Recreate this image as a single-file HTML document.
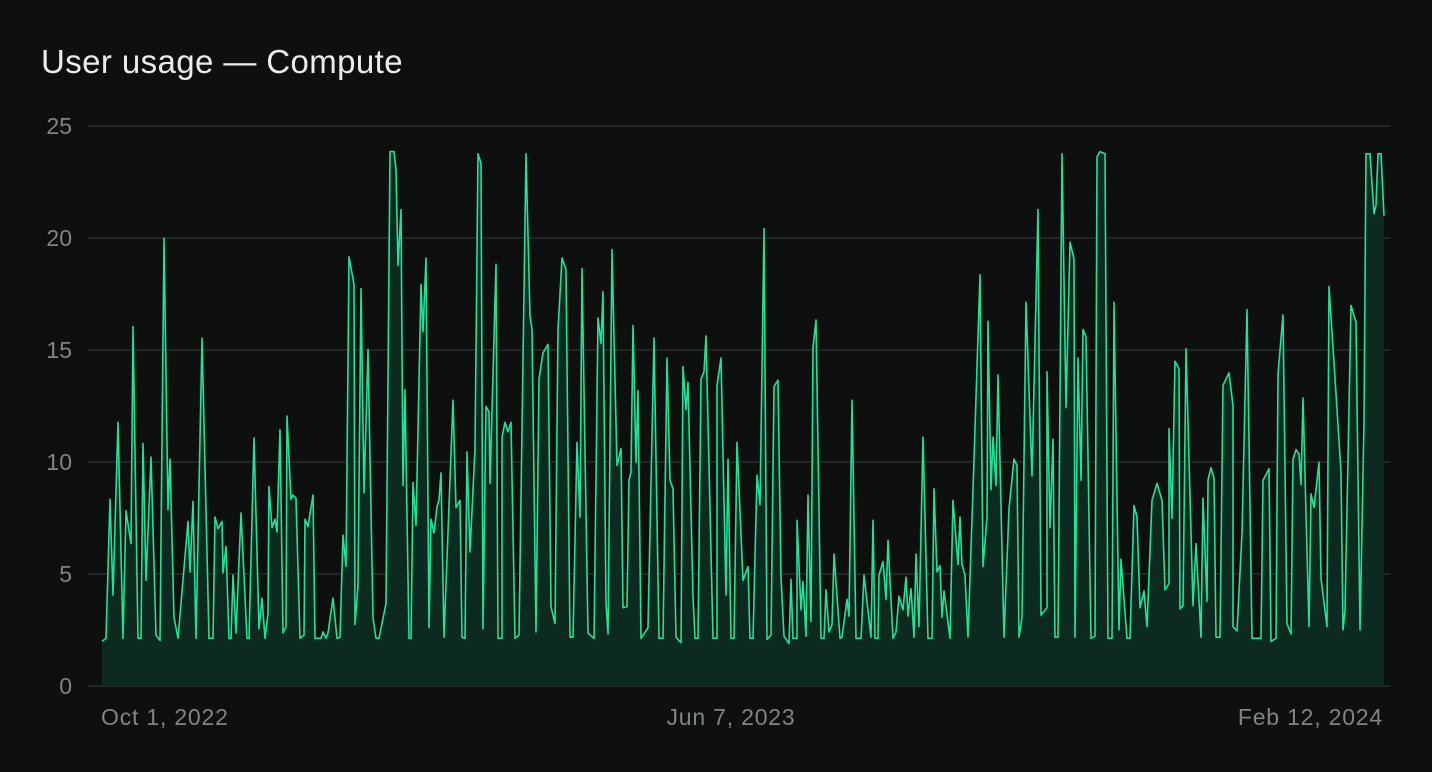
<!DOCTYPE html>
<html><head><meta charset="utf-8"><style>
html,body{margin:0;padding:0;background:#0e0f0f;}
svg{display:block}
text{font-family:"Liberation Sans",sans-serif}
</style></head><body>
<svg width="1432" height="772" viewBox="0 0 1432 772" xmlns="http://www.w3.org/2000/svg">
<rect width="1432" height="772" fill="#0e0f0f"/>
<text x="41" y="73" font-size="33" letter-spacing="0.4" fill="#ececec">User usage — Compute</text>
<g stroke="#2a2d2c" stroke-width="1.5">
<line x1="88" y1="126" x2="1390" y2="126"/>
<line x1="88" y1="238" x2="1390" y2="238"/>
<line x1="88" y1="350" x2="1390" y2="350"/>
<line x1="88" y1="462" x2="1390" y2="462"/>
<line x1="88" y1="574" x2="1390" y2="574"/>
<line x1="88" y1="686" x2="1390" y2="686"/>
</g>
<g font-size="23" fill="#7f8584" text-anchor="end">
<text x="72" y="134">25</text><text x="72" y="246">20</text><text x="72" y="358">15</text>
<text x="72" y="470">10</text><text x="72" y="582">5</text><text x="72" y="694">0</text>
</g>
<g font-size="23" fill="#7f8584" letter-spacing="0.8">
<text x="101" y="725">Oct 1, 2022</text>
<text x="731" y="725" text-anchor="middle">Jun 7, 2023</text>
<text x="1383" y="725" text-anchor="end">Feb 12, 2024</text>
</g>
<polygon id="area" fill="#0d2a20" points=""/>
<polyline id="ln" fill="none" stroke="#1fe39b" stroke-width="1.6" stroke-linejoin="round" points=""/>
<script>
var p="102,616 106,613 110,481 113,572 118,408 123,613 126,492 131,523 133,317 138,613 141,613 143,428 146,558 151,441 156,610 160,615 164,233 168,491 170,443 174,593 178,613 188,502 190,550 193,483 196,613 202,328 209,613 213,613 215,498 218,509 222,502 223,551 226,526 229,613 231,613 233,553 236,608 241,494 247,613 249,613 254,423 259,604 262,575 265,613 268,590 269,469 272,508 275,500 277,512 280,415 283,608 286,602 287,402 291,481 293,477 296,480 300,613 304,610 305,500 308,507 313,477 315,613 321,613 323,607 326,613 328,608 333,575 337,613 340,612 343,515 346,545 349,251 354,277 355,600 358,563 361,281 364,475 368,339 373,593 376,613 379,613 386,580 390,151 394,151 396,168 398,259 401,206 403,468 405,377 409,613 411,613 413,465 416,506 421,277 423,322 426,252 429,603 431,500 434,513 437,488 439,482 441,456 444,612 453,387 456,489 460,482 462,612 465,613 467,436 470,531 475,433 478,153 481,162 483,604 486,393 489,398 490,466 496,258 498,613 502,613 502,422 505,408 508,417 511,408 515,613 519,610 526,153 530,307 532,320 536,607 539,367 543,342 548,334 551,583 555,599 558,320 562,252 566,263 570,612 573,612 577,427 580,498 582,262 588,608 594,613 598,309 601,333 603,284 606,580 608,609 612,244 617,449 621,433 623,584 627,583 629,463 631,455 633,316 636,446 638,378 641,613 648,603 654,328 659,613 663,613 667,347 670,463 673,471 676,612 681,617 683,355 686,396 688,370 693,573 695,613 698,613 701,367 704,360 706,326 713,613 717,613 717,373 721,347 726,572 728,443 731,613 734,613 737,427 743,558 748,545 750,613 753,613 757,458 760,486 764,224 767,614 771,610 774,374 778,368 781,555 784,611 789,618 791,557 793,613 797,613 797,501 801,586 803,559 806,611 808,477 811,597 813,337 816,311 821,613 824,613 826,567 829,607 832,600 834,533 840,613 842,612 847,576 849,592 852,387 856,613 861,613 864,553 871,612 873,501 875,613 878,613 879,553 883,540 886,576 888,520 893,613 896,607 899,573 903,586 906,555 908,592 911,566 914,612 916,533 919,602 923,422 928,613 932,613 934,471 937,550 940,544 942,593 944,568 950,613 953,482 958,543 960,498 962,543 965,553 968,612 974,443 980,268 983,545 987,498 988,312 991,472 993,422 996,468 998,363 1004,612 1009,490 1014,443 1017,449 1019,612 1022,593 1026,294 1032,459 1038,206 1041,591 1047,584 1047,360 1050,508 1053,424 1055,612 1058,612 1062,153 1066,394 1070,237 1074,253 1075,612 1078,347 1081,463 1083,320 1086,327 1091,613 1095,611 1097,156 1100,151 1105,153 1108,613 1112,613 1114,294 1119,605 1121,538 1127,613 1130,613 1134,487 1137,498 1140,584 1144,568 1147,602 1152,482 1157,466 1162,482 1165,567 1169,561 1169,414 1172,499 1175,350 1179,357 1180,585 1183,582 1186,338 1193,582 1196,523 1201,612 1203,480 1207,578 1208,463 1211,451 1214,461 1216,612 1220,612 1223,373 1229,361 1233,392 1233,602 1237,606 1242,513 1247,301 1252,613 1261,613 1263,463 1269,452 1271,616 1276,613 1278,362 1283,306 1287,599 1291,609 1293,443 1296,434 1299,438 1301,467 1303,385 1309,602 1311,476 1314,489 1319,446 1321,556 1327,602 1329,279 1334,351 1341,455 1343,605 1345,587 1351,297 1356,313 1360,605 1364,407 1366,153 1370,153 1374,210 1376,202 1378,153 1381,153 1384,212";
p=p.split(" ").map(function(s){var a=s.split(",");var y=140+(parseFloat(a[1])-140)*1.0534;return a[0]+","+y.toFixed(1);}).join(" ");
document.getElementById('ln').setAttribute('points',p);
document.getElementById('area').setAttribute('points',"102,686 "+p+" 1384,686");
</script>
</svg>
</body></html>
